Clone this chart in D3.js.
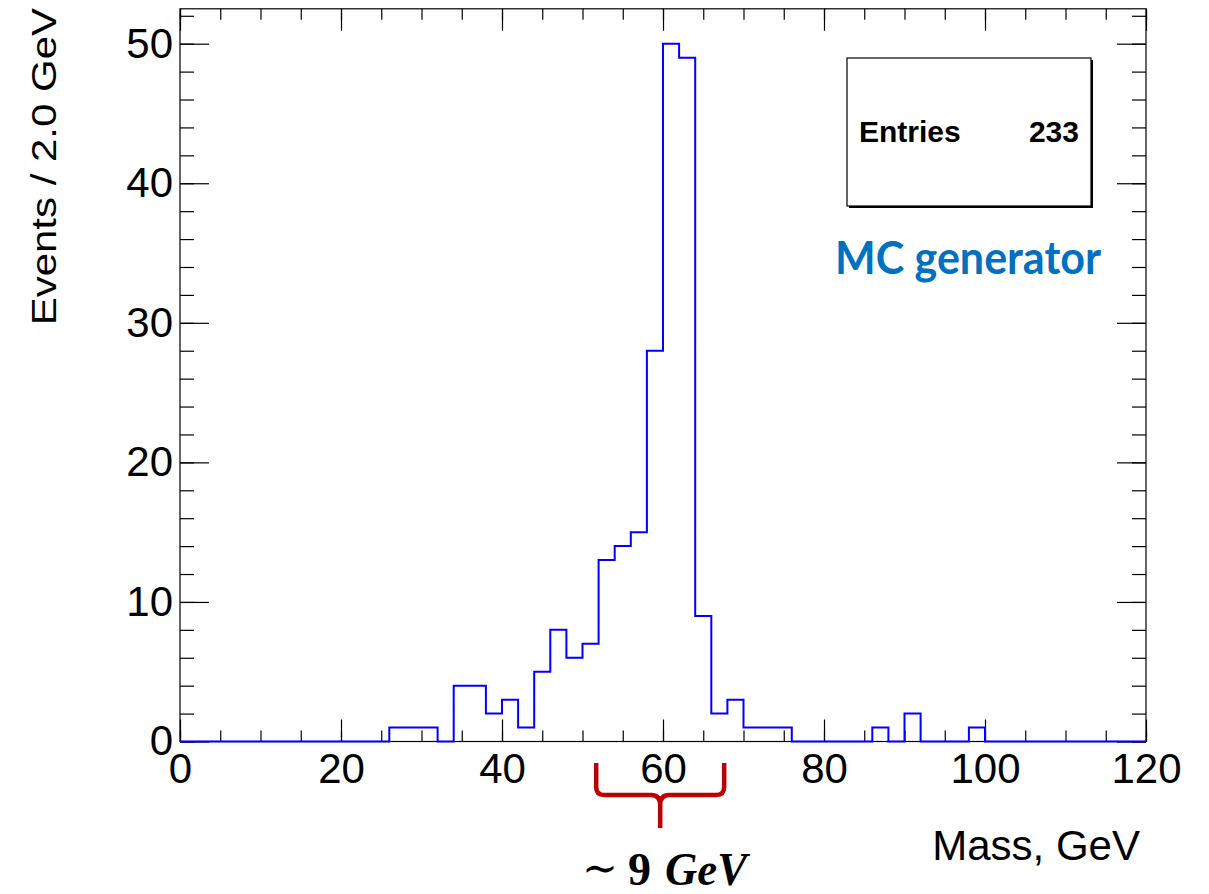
<!DOCTYPE html>
<html>
<head>
<meta charset="utf-8">
<script src="https://cdn.jsdelivr.net/npm/d3@7"></script>
<style>
  html, body { margin: 0; padding: 0; background: #fff; }
  svg { display: block; }
</style>
</head>
<body>
<svg id="chart" width="1209" height="894"></svg>
<script>
// ---- data ----
const binWidth = 2.0;
const binLowEdges = d3.range(0, 120, 2);
const counts = [
  0,0,0,0,0,0,0,0,0,0,0,0,0,   // 0 - 24
  1,1,1,0,4,4,2,3,1,5,8,6,7,   // 26 - 50
  13,14,15,28,50,49,9,2,3,1,1,1, // 52 - 74
  0,0,0,0,0,1,0,2,0,0,0,1,     // 76 - 98
  0,0,0,0,0,0,0,0,0,0          // 100 - 118
];
const xMajorTicks = [0, 20, 40, 60, 80, 100, 120];
const xMinorTicks = d3.range(0, 121, 5);
const yMajorTicks = [0, 10, 20, 30, 40, 50];
const yMinorTicks = d3.range(0, 53, 2);
const xTitle = "Mass, GeV";
const yTitle = "Events / 2.0 GeV";
const statsLabel = "Entries";
const statsValue = "233";
const legendText = "MC generator";
const braceRange = [51.7, 67.6];

// ---- layout ----
const svg = d3.select("#chart");
const x = d3.scaleLinear().domain([0, 120]).range([180, 1146]);
const y = d3.scaleLinear().domain([0, 52.5]).range([741.5, 8.8]);
const FONT = "'Liberation Sans', Arial, Helvetica, sans-serif";
const SERIF = "'Liberation Serif', 'DejaVu Serif', serif";

function styleAxis(g) {
  g.select(".domain").remove();
  g.selectAll(".tick line").attr("stroke", "#000").attr("stroke-width", 1.2);
  g.selectAll("text").attr("font-family", FONT).attr("font-size", 42).attr("fill", "#000");
}

// minor ticks
svg.append("g").attr("transform", `translate(0,${y(0)})`)
  .call(d3.axisBottom(x).tickValues(xMinorTicks).tickSize(-11).tickFormat(""))
  .call(styleAxis);
svg.append("g").attr("transform", `translate(0,${y(52.5)})`)
  .call(d3.axisTop(x).tickValues(xMinorTicks).tickSize(-11).tickFormat(""))
  .call(styleAxis);
svg.append("g").attr("transform", `translate(${x(0)},0)`)
  .call(d3.axisLeft(y).tickValues(yMinorTicks).tickSize(-14).tickFormat(""))
  .call(styleAxis);
svg.append("g").attr("transform", `translate(${x(120)},0)`)
  .call(d3.axisRight(y).tickValues(yMinorTicks).tickSize(-14).tickFormat(""))
  .call(styleAxis);

// major ticks
svg.append("g").attr("transform", `translate(0,${y(0)})`)
  .call(d3.axisBottom(x).tickValues(xMajorTicks).tickSize(-22).tickPadding(12).tickFormat(d3.format("d")))
  .call(styleAxis);
svg.append("g").attr("transform", `translate(0,${y(52.5)})`)
  .call(d3.axisTop(x).tickValues(xMajorTicks).tickSize(-22).tickFormat(""))
  .call(styleAxis);
svg.append("g").attr("transform", `translate(${x(0)},0)`)
  .call(d3.axisLeft(y).tickValues(yMajorTicks).tickSize(-29).tickPadding(7).tickFormat(d3.format("d")))
  .call(styleAxis);
svg.append("g").attr("transform", `translate(${x(120)},0)`)
  .call(d3.axisRight(y).tickValues(yMajorTicks).tickSize(-29).tickFormat(""))
  .call(styleAxis);

// frame
svg.append("rect")
  .attr("x", x(0)).attr("y", y(52.5))
  .attr("width", x(120) - x(0)).attr("height", y(0) - y(52.5))
  .attr("fill", "none").attr("stroke", "#000").attr("stroke-width", 1.2);

// histogram
const pts = binLowEdges.map((e, i) => [e, counts[i]]);
pts.push([120, counts[counts.length - 1]]);
const line = d3.line().x(d => x(d[0])).y(d => y(d[1])).curve(d3.curveStepAfter);
svg.append("path")
  .attr("d", line(pts))
  .attr("fill", "none").attr("stroke", "#0000ff").attr("stroke-width", 2);

// axis titles
svg.append("text")
  .attr("x", x(120) - 6).attr("y", 860)
  .attr("text-anchor", "end")
  .attr("font-family", FONT).attr("font-size", 42)
  .text(xTitle);
svg.append("text")
  .attr("transform", "translate(56,8) scale(0.84,1) rotate(-90)")
  .attr("text-anchor", "end")
  .attr("font-family", FONT).attr("font-size", 42)
  .text(yTitle);

// stats box
svg.append("rect").attr("x", 849).attr("y", 60).attr("width", 244).attr("height", 148).attr("fill", "#000");
svg.append("rect").attr("x", 847).attr("y", 58).attr("width", 244).attr("height", 148)
  .attr("fill", "#fff").attr("stroke", "#000").attr("stroke-width", 1.2);
svg.append("text").attr("x", 859).attr("y", 142)
  .attr("font-family", FONT).attr("font-weight", "bold").attr("font-size", 30)
  .text(statsLabel);
svg.append("text").attr("x", 1079).attr("y", 142).attr("text-anchor", "end")
  .attr("font-family", FONT).attr("font-weight", "bold").attr("font-size", 30)
  .text(statsValue);

// annotation text
svg.append("text").attr("x", 835).attr("y", 274)
  .attr("font-family", "Lato, 'Open Sans', sans-serif").attr("font-weight", "bold").attr("font-size", 46)
  .attr("fill", "#0070c0")
  .attr("textLength", 266).attr("lengthAdjust", "spacingAndGlyphs")
  .text(legendText);

// red brace annotation
const bx0 = x(braceRange[0]), bx1 = x(braceRange[1]), bm = (bx0 + bx1) / 2;
const braceTop = 763, braceMid = 795, braceTip = 828;
const brace = d3.path();
brace.moveTo(bx0, braceTop);
brace.lineTo(bx0, braceMid - 8);
brace.quadraticCurveTo(bx0, braceMid, bx0 + 8, braceMid);
brace.lineTo(bm - 9, braceMid);
brace.quadraticCurveTo(bm, braceMid, bm, braceMid + 10);
brace.lineTo(bm, braceTip);
brace.moveTo(bm, braceMid + 10);
brace.quadraticCurveTo(bm, braceMid, bm + 9, braceMid);
brace.lineTo(bx1 - 8, braceMid);
brace.quadraticCurveTo(bx1, braceMid, bx1, braceMid - 8);
brace.lineTo(bx1, braceTop);
svg.append("path").attr("d", brace.toString())
  .attr("fill", "none").attr("stroke", "#c00000").attr("stroke-width", 4.5)
  .attr("stroke-linejoin", "round");

// "~ 9 GeV" label
const labelBase = 885;
svg.append("text").attr("x", 582).attr("y", labelBase - 2)
  .attr("font-family", "'DejaVu Serif', serif").attr("font-size", 44)
  .attr("textLength", 36).attr("lengthAdjust", "spacingAndGlyphs")
  .text("\u223C");
svg.append("text").attr("x", 628).attr("y", labelBase)
  .attr("font-family", SERIF).attr("font-weight", "bold").attr("font-size", 46)
  .text("9");
svg.append("text").attr("x", 665).attr("y", labelBase)
  .attr("font-family", SERIF).attr("font-weight", "bold").attr("font-style", "italic").attr("font-size", 46)
  .attr("textLength", 82).attr("lengthAdjust", "spacingAndGlyphs")
  .text("GeV");
</script>
</body>
</html>
